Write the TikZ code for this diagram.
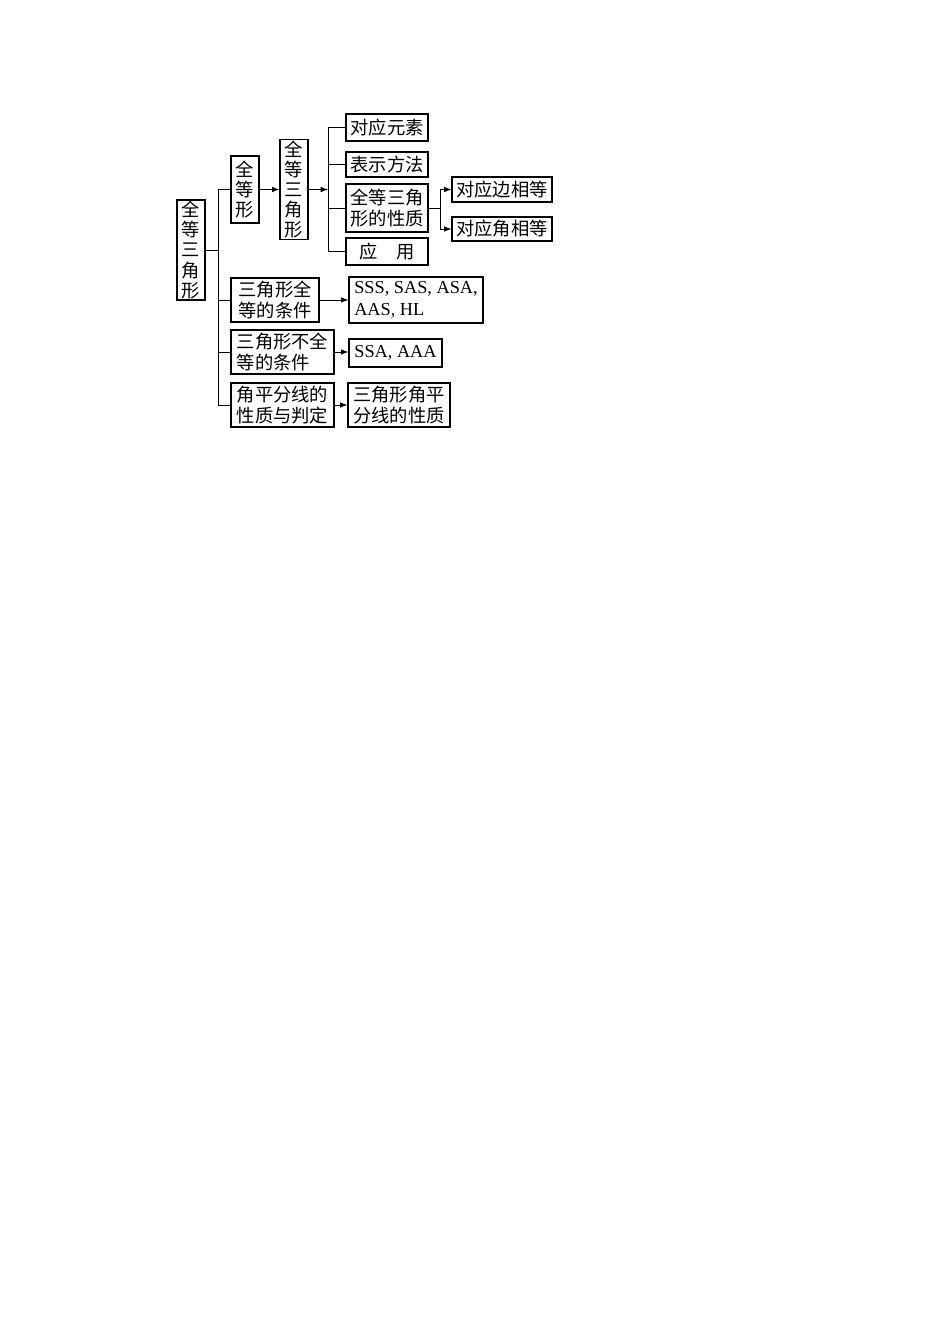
\documentclass[tikz,border=0pt]{standalone}
\usepackage{fontspec}
\setmainfont{Liberation Serif}
\newfontfamily\cjk{Noto Sans CJK SC}
\newcommand\pxl{0.22105mm}
\tikzset{
  kbox/.style={draw, line width=0.8pt, inner sep=0pt, align=center,
    font={\cjk\fontsize{11.5}{13.6}\selectfont}},
  vbox/.style={kbox, font={\cjk\fontsize{11.5}{12.6}\selectfont}},
  lbox/.style={draw, line width=0.8pt, inner sep=0pt, inner xsep=3pt, align=left,
    font={\fontsize{11.5}{13.6}\selectfont}},
  sz/.style 2 args={minimum width=#1*\pxl, minimum height=#2*\pxl},
  link/.style={line width=0.6pt},
}

\begin{document}
\begin{tikzpicture}[x=\pxl, y=-\pxl, >=latex]
  \useasboundingbox (0,0) rectangle (950,1344);
  % first column
    \node[vbox, sz={28}{100}] (root) at (191,250) {全\\等\\三\\角\\形};
    \node[vbox, sz={28}{67}] (dx) at (245,189.5) {全\\等\\形};
    \node[vbox, sz={28}{100}] (sjx) at (294,189.5) {全\\等\\三\\角\\形};
    \node[kbox, sz={88}{44}] (tj) at (275,300) {三角形全\\等的条件};
    \node[kbox, sz={103}{44}, align=left] (btj) at (282.5,352) {三角形不全\\等的条件};
    \node[kbox, sz={103}{44}] (jpfx) at (282.5,405) {角平分线的\\性质与判定};

  % second column
    \node[kbox, sz={82}{27}] (dyys) at (387,127.5) {对应元素};
    \node[kbox, sz={82}{25}] (bsff) at (387,164.5) {表示方法};
    \node[kbox, sz={82}{48}] (xz) at (387,208) {全等三角\\形的性质};
    \node[kbox, sz={82}{27}] (yy) at (387,251.5) {应\hspace{1em}用};
    \node[lbox, sz={134}{46}] (sss) at (416,300) {SSS, SAS, ASA,\\AAS, HL};
    \node[lbox, sz={93}{28}] (ssa) at (395.5,353) {SSA, AAA};
    \node[kbox, sz={102}{44}] (jpxz) at (399,405) {三角形角平\\分线的性质};

  % third column
    \node[kbox, sz={100}{25}] (bian) at (502,189.5) {对应边相等};
    \node[kbox, sz={100}{24}] (jiao) at (502,229) {对应角相等};

  % brackets
    \coordinate (t1) at (218,0);
    \coordinate (t2) at (328,0);
    \coordinate (t3) at (440,0);

    \draw[link] (root.east) -- (root.east -| t1);
    \draw[link] (t1 |- dx.west) -- (t1 |- jpfx.west);
    \foreach \n in {dx, tj, btj, jpfx}
      \draw[link] (t1 |- \n.west) -- (\n.west);

    \draw[link, ->] (dx.east) -- (dx.east -| sjx.west);
    \draw[link, ->] (sjx.east) -- (sjx.east -| t2);
    \draw[link] (t2 |- dyys.west) -- (t2 |- yy.west);
    \foreach \n in {dyys, bsff, xz, yy}
      \draw[link] (t2 |- \n.west) -- (\n.west);

    \draw[link] (xz.east) -- (xz.east -| t3);
    \draw[link] (t3 |- bian.west) -- (t3 |- jiao.west);
    \foreach \n in {bian, jiao}
      \draw[link, ->] (t3 |- \n.west) -- (\n.west);

    \draw[link, ->] (tj.east) -- (tj.east -| sss.west);
    \draw[link, ->] (btj.east) -- (btj.east -| ssa.west);
    \draw[link, ->] (jpfx.east) -- (jpxz.west);
  \end{tikzpicture}
\end{document}
